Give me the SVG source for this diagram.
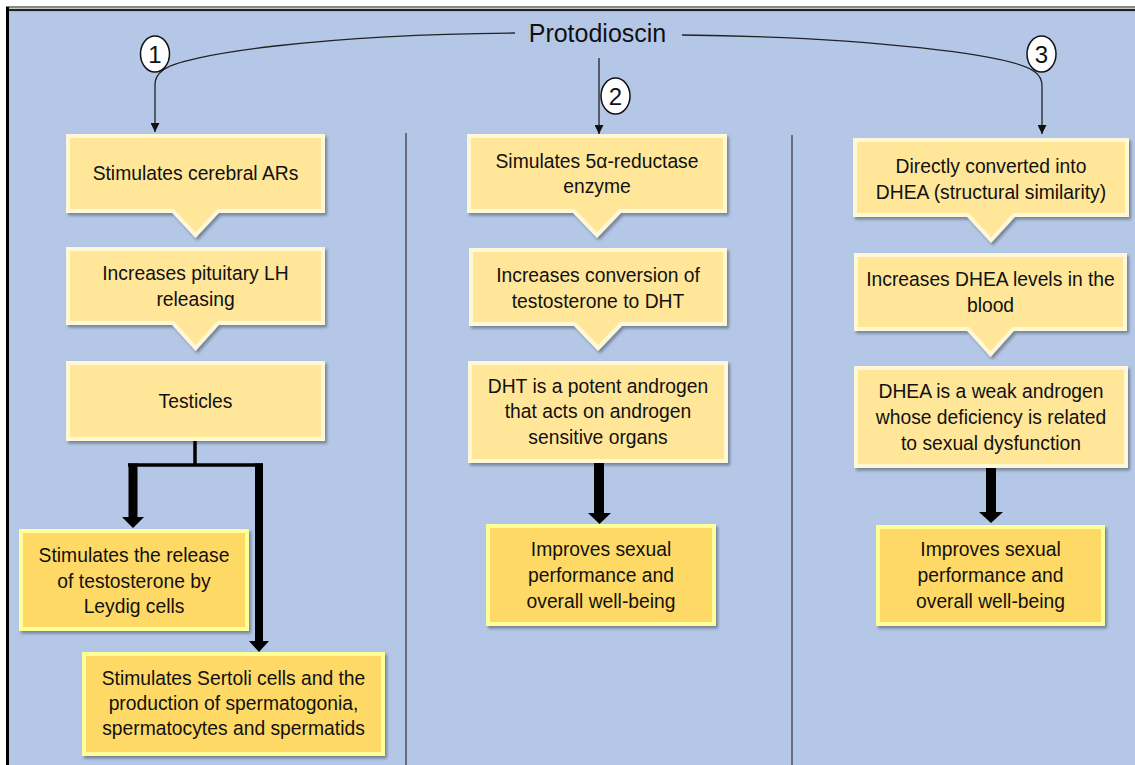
<svg xmlns="http://www.w3.org/2000/svg" width="1135" height="765" viewBox="0 0 1135 765">
<defs>
<style>
.t{font-family:"Liberation Sans",Arial,sans-serif;font-size:19.3px;fill:#111;text-anchor:middle}
.top{fill:#FFE699;stroke:#FFF8D6;stroke-width:4;stroke-linejoin:miter}
.bot{fill:#FFD966;stroke:#FFFF99;stroke-width:4}
.thin{fill:none;stroke:#222;stroke-width:1.3}
.sep{stroke:#333;stroke-width:1.2}
.num{fill:#fff;stroke:#111;stroke-width:1.5}
.nt{font-family:"Liberation Sans",Arial,sans-serif;font-size:24px;fill:#111;text-anchor:middle}
.thick{fill:#000}
</style>
<filter id="sh" x="-10%" y="-10%" width="125%" height="130%">
<feDropShadow dx="2" dy="2.5" stdDeviation="1.5" flood-color="#000" flood-opacity="0.35"/>
</filter>
<marker id="ah" viewBox="0 0 10 10" refX="10" refY="5" markerWidth="9" markerHeight="9" markerUnits="userSpaceOnUse" orient="auto">
<path d="M0,0 L10,5 L0,10 Z" fill="#111"/>
</marker>
</defs>

<rect x="0" y="0" width="1135" height="765" fill="#fff"/>
<rect x="9" y="11.5" width="1126" height="754" fill="#B4C7E7"/>
<line x1="6" y1="7" x2="1135" y2="7" stroke="#111" stroke-width="1.2"/>
<line x1="6" y1="10" x2="1135" y2="10" stroke="#222" stroke-width="2.5"/>
<line x1="7.5" y1="7" x2="7.5" y2="765" stroke="#000" stroke-width="3"/>

<g id="separators">
<line class="sep" x1="406" y1="133" x2="406" y2="765"/>
<line class="sep" x1="792" y1="135" x2="792" y2="765"/>
</g>

<g id="title">
<text x="597.5" y="42" font-family="Liberation Sans, Arial, sans-serif" font-size="25" fill="#111" text-anchor="middle">Protodioscin</text>
</g>

<g id="connectors">
<path class="thin" d="M515,33 C330,34 178,54 162,71 Q155,76 155,85 V132" marker-end="url(#ah)"/>
<path class="thin" d="M682,35 C870,37 1015,55 1035,72 Q1042,77 1042,86 V134" marker-end="url(#ah)"/>
<path class="thin" d="M599,58 V134" marker-end="url(#ah)"/>
<path d="M195,439 V465 M128,465 H263" fill="none" stroke="#000" stroke-width="3.5"/>
<path class="thick" d="M128.5,463.5 H137.5 V517 H144 L133,528 L122,517 H128.5 Z"/>
<path class="thick" d="M255,463.5 H263 V641 H269 L259,652 L249,641 H255 Z"/>
<path class="thick" d="M594,461 H604 V513 H611 L599.5,524 L588,513 H594 Z"/>
<path class="thick" d="M986,466 H996 V512 H1003 L991,523 L979,512 H986 Z"/>
</g>

<g id="markers">
<g id="m1"><ellipse class="num" cx="155" cy="54" rx="14.5" ry="18"/><text class="nt" x="155" y="62.5">1</text></g>
<g id="m2"><ellipse class="num" cx="615.5" cy="96" rx="14.5" ry="18"/><text class="nt" x="615.5" y="104.5">2</text></g>
<g id="m3"><ellipse class="num" cx="1041.5" cy="54" rx="14.5" ry="18"/><text class="nt" x="1041.5" y="62.5">3</text></g>
</g>

<g id="l1">
<path class="top" filter="url(#sh)" d="M68,136 H323 V211 H218 L195.5,235 L173,211 H68 Z"/>
<text class="t" x="195.5" y="180">Stimulates cerebral ARs</text>
</g>
<g id="l2">
<path class="top" filter="url(#sh)" d="M68,249 H323 V323 H218 L195.5,348 L173,323 H68 Z"/>
<text class="t" x="195.5" y="280">Increases pituitary LH</text>
<text class="t" x="195.5" y="306">releasing</text>
</g>
<g id="l3">
<rect class="top" filter="url(#sh)" x="68" y="363" width="255" height="76"/>
<text class="t" x="195.5" y="408">Testicles</text>
</g>
<g id="l4">
<rect class="bot" filter="url(#sh)" x="21" y="531" width="226" height="98"/>
<text class="t" x="134" y="562">Stimulates the release</text>
<text class="t" x="134" y="587.5">of testosterone by</text>
<text class="t" x="134" y="613">Leydig cells</text>
</g>
<g id="l5">
<rect class="bot" filter="url(#sh)" x="84" y="654" width="299" height="100"/>
<text class="t" x="233.5" y="685">Stimulates Sertoli cells and the</text>
<text class="t" x="233.5" y="710">production of spermatogonia,</text>
<text class="t" x="233.5" y="735">spermatocytes and spermatids</text>
</g>

<g id="m1box">
<path class="top" filter="url(#sh)" d="M469,136 H725 V211 H620 L597,235 L574,211 H469 Z"/>
<text class="t" x="597" y="168">Simulates 5α-reductase</text>
<text class="t" x="597" y="193">enzyme</text>
</g>
<g id="m2box">
<path class="top" filter="url(#sh)" d="M471,250 H725 V324 H621 L598,348 L575,324 H471 Z"/>
<text class="t" x="598" y="282">Increases conversion of</text>
<text class="t" x="598" y="307.5">testosterone to DHT</text>
</g>
<g id="m3box">
<rect class="top" filter="url(#sh)" x="470" y="363" width="256" height="98"/>
<text class="t" x="598" y="393">DHT is a potent androgen</text>
<text class="t" x="598" y="418">that acts on androgen</text>
<text class="t" x="598" y="443.5">sensitive organs</text>
</g>
<g id="m4box">
<rect class="bot" filter="url(#sh)" x="488" y="526" width="226" height="98"/>
<text class="t" x="601" y="555.5">Improves sexual</text>
<text class="t" x="601" y="581.5">performance and</text>
<text class="t" x="601" y="607.5">overall well-being</text>
</g>

<g id="r1">
<path class="top" filter="url(#sh)" d="M855,140 H1127 V215 H1014 L991,240 L968,215 H855 Z"/>
<text class="t" x="991" y="172.5">Directly converted into</text>
<text class="t" x="991" y="198.5">DHEA (structural similarity)</text>
</g>
<g id="r2">
<path class="top" filter="url(#sh)" d="M856,255 H1125 V329 H1013 L990.5,354 L968,329 H856 Z"/>
<text class="t" x="990.5" y="285.5">Increases DHEA levels in the</text>
<text class="t" x="990.5" y="311.5">blood</text>
</g>
<g id="r3">
<rect class="top" filter="url(#sh)" x="856" y="368" width="270" height="98"/>
<text class="t" x="991" y="398">DHEA is a weak androgen</text>
<text class="t" x="991" y="424">whose deficiency is related</text>
<text class="t" x="991" y="450">to sexual dysfunction</text>
</g>
<g id="r4">
<rect class="bot" filter="url(#sh)" x="878" y="527" width="225" height="97"/>
<text class="t" x="990.5" y="555.5">Improves sexual</text>
<text class="t" x="990.5" y="581.5">performance and</text>
<text class="t" x="990.5" y="607.5">overall well-being</text>
</g>
</svg>
